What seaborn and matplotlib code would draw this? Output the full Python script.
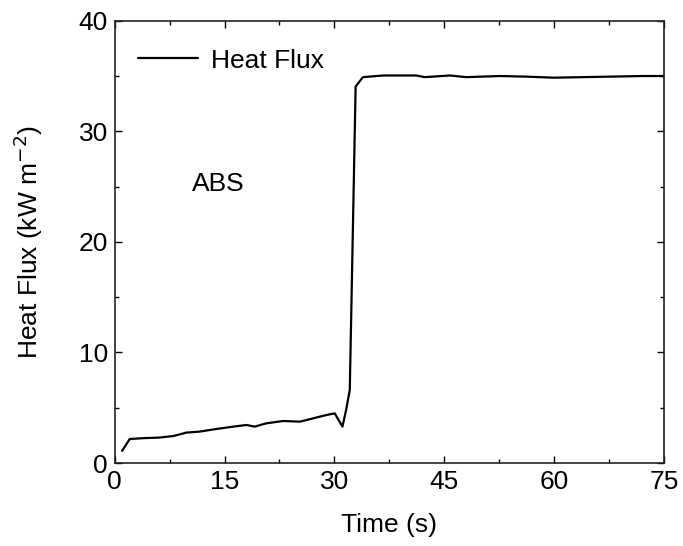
import matplotlib
matplotlib.use("Agg")
import matplotlib.pyplot as plt
import seaborn as sns
import pandas as pd
from matplotlib.ticker import MultipleLocator

time_s = [1.0, 2.05, 4.0, 6.1, 8.0, 9.8, 11.6, 13.9, 16.2, 18.0, 19.1, 20.7, 23.0,
          25.3, 27.1, 28.9, 30.05, 31.1, 31.6, 32.1, 32.9, 33.9, 36.7, 41.2, 42.3,
          45.8, 48.0, 52.6, 56.0, 60.0, 64.0, 68.0, 72.0, 75.0]
heat_flux = [1.1, 2.17, 2.25, 2.3, 2.44, 2.75, 2.84, 3.08, 3.29, 3.44, 3.29, 3.59, 3.8,
             3.74, 4.04, 4.34, 4.49, 3.29, 4.8, 6.6, 34.05, 34.9, 35.05, 35.05, 34.9,
             35.05, 34.9, 35.0, 34.95, 34.85, 34.9, 34.95, 35.0, 35.0]

df = pd.DataFrame({"Time (s)": time_s, "Heat Flux": heat_flux})

sns.set_theme(style="ticks")
plt.rcParams['font.family'] = ['Liberation Sans', 'DejaVu Sans']
plt.rcParams['text.color'] = 'black'
plt.rcParams['axes.labelcolor'] = 'black'

FS = 19

fig = plt.figure(figsize=(6.83, 5.46), dpi=100)
ax = fig.add_axes([0.168, 0.152, 0.804, 0.810])
sns.lineplot(data=df, x="Time (s)", y="Heat Flux", color="black", linewidth=1.6,
             ax=ax, label="Heat Flux")

ax.set_xlim(0, 75)
ax.set_ylim(0, 40)
ax.xaxis.set_major_locator(MultipleLocator(15))
ax.xaxis.set_minor_locator(MultipleLocator(7.5))
ax.yaxis.set_major_locator(MultipleLocator(10))
ax.yaxis.set_minor_locator(MultipleLocator(5))
ax.tick_params(which="both", direction="in", top=True, right=True, labelsize=FS,
               width=1.0, colors="black", pad=5)
ax.tick_params(which="major", length=5)
ax.tick_params(which="minor", length=3)
for s in ax.spines.values():
    s.set_linewidth(1.2)
    s.set_color("#222222")

ax.set_xlabel("Time (s)", fontsize=FS, labelpad=14)
ax.set_ylabel("Heat Flux (kW m$^{-2}$)", fontsize=FS, labelpad=24)

ax.text(10.5, 25.2, "ABS", fontsize=FS, va="center", ha="left")

leg = ax.legend(loc="upper left", bbox_to_anchor=(0.0055, 0.982), frameon=False,
                fontsize=FS, handlelength=2.3, borderaxespad=0.35, handletextpad=0.5)

fig.savefig("out.png", dpi=100)
